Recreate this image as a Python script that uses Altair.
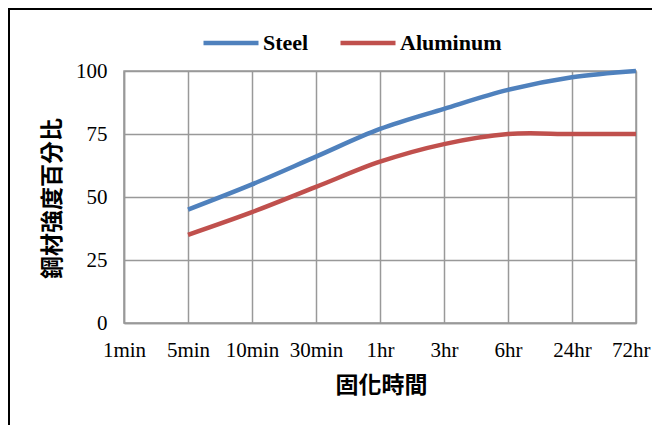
import altair as alt
import pandas as pd

times = ["1min", "5min", "10min", "30min", "1hr", "3hr", "6hr", "24hr", "72hr"]
steel_times = ["5min", "10min", "30min", "1hr", "3hr", "6hr", "24hr", "72hr"]
steel = [45, 55, 66, 77, 85, 92.5, 97.5, 100]
aluminum = [35, 44, 54, 64, 71, 75, 75, 75]
series = ["Steel", "Aluminum"]
colors = ["#4F81BD", "#C0504D"]
y_ticks = [0, 25, 50, 75, 100]

rows = []
for t, v in zip(steel_times, steel):
    rows.append({"time": t, "value": v, "series": "Steel"})
for t, v in zip(steel_times, aluminum):
    rows.append({"time": t, "value": v, "series": "Aluminum"})
df = pd.DataFrame(rows)

serif = "Liberation Serif"
cjk = "Noto Sans CJK TC"
last = times[-1]

lines = alt.Chart(df).mark_line(strokeWidth=4.5, interpolate="catmull-rom").encode(
    x=alt.X("time:N", sort=times,
            scale=alt.Scale(type="point", domain=times, padding=0),
            axis=alt.Axis(title="固化時間", labelAngle=0, labelPadding=16,
                          labelAlign=alt.expr(f"datum.value == '{last}' ? 'right' : 'center'"),
                          labelOffset=alt.expr(f"datum.value == '{last}' ? 14 : 0"),
                          labelFont=serif, labelFontSize=21, labelColor="black",
                          titleFont=cjk, titleFontSize=23, titleFontWeight="bold",
                          titleColor="black", titleX=257, titleY=62,
                          titleBaseline="middle", titleAlign="center",
                          ticks=False, grid=True, gridColor="#999999", gridWidth=1.5,
                          domainColor="#999999", domainWidth=1.5)),
    y=alt.Y("value:Q", scale=alt.Scale(domain=[0, 100], nice=False),
            axis=alt.Axis(title="鋼材強度百分比", values=y_ticks, labelPadding=17,
                          labelFont=serif, labelFontSize=21, labelColor="black",
                          titleFont=cjk, titleFontSize=23, titleFontWeight="bold",
                          titleColor="black", titleX=-72, titleY=127,
                          titleAngle=270, titleBaseline="middle", titleAlign="center",
                          ticks=False, grid=True, gridColor="#999999", gridWidth=1.5,
                          domainColor="#999999", domainWidth=1.5)),
    color=alt.Color("series:N", sort=series,
                    scale=alt.Scale(domain=series, range=colors),
                    legend=alt.Legend(title=None, orient="none", direction="horizontal",
                                      legendX=77, legendY=-58,
                                      symbolType="stroke", symbolSize=3025,
                                      symbolStrokeWidth=4.5, labelFont=serif,
                                      labelFontSize=22, labelFontWeight="bold",
                                      labelColor="black", labelOffset=2,
                                      columnPadding=22, padding=0)),
)

frame = alt.Chart(alt.Data(values=[{}])).mark_rect(
    fill=None, stroke="black", strokeWidth=2
).encode(
    x=alt.value(-115), x2=alt.value(700),
    y=alt.value(-62), y2=alt.value(500),
)

chart = alt.layer(frame, lines).properties(
    width=512, height=252,
    autosize=alt.AutoSizeParams(type="none"),
    padding={"left": 116, "top": 63, "right": 16, "bottom": 102},
).configure_view(stroke="#999999", strokeWidth=1.5)

chart.save("out.html", embed_options={"renderer": "svg", "actions": False})
